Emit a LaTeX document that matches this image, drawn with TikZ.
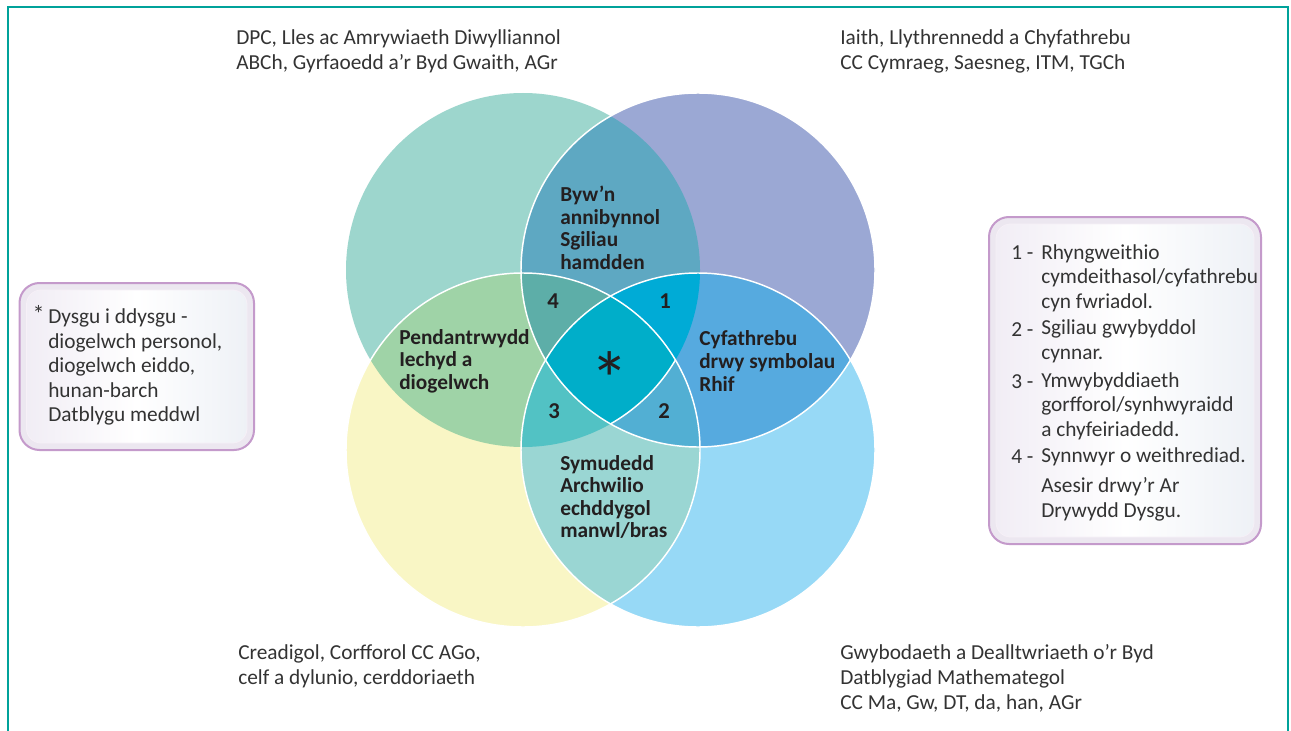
\documentclass[tikz,border=0pt]{standalone}
\usepackage{fontspec}
\setmainfont{Carlito}
\definecolor{cTLc}{HTML}{9DD6CD}
\definecolor{cTRc}{HTML}{9BA8D4}
\definecolor{cBLc}{HTML}{F9F6C5}
\definecolor{cBRc}{HTML}{97D9F6}
\definecolor{pTop}{HTML}{5EA8C2}
\definecolor{pLeft}{HTML}{9FD3A7}
\definecolor{pRight}{HTML}{56AADF}
\definecolor{pBot}{HTML}{9AD6D3}
\definecolor{tFour}{HTML}{5DAEA8}
\definecolor{tOne}{HTML}{00ABD6}
\definecolor{tThree}{HTML}{52C2C4}
\definecolor{tTwo}{HTML}{52AFD3}
\definecolor{qAll}{HTML}{00AEC9}
\definecolor{frameteal}{HTML}{00A29A}
\definecolor{txtgray}{HTML}{333333}
\definecolor{txtdark}{HTML}{231F20}
\definecolor{panelline}{HTML}{C49ACB}
\definecolor{panelfill}{HTML}{ECE7F0}
\definecolor{pearlA}{HTML}{F1EDF5}
\definecolor{pearlB}{HTML}{EEF1F6}
\begin{document}
\begin{tikzpicture}[x=0.75pt,y=-0.75pt,
  corner/.style={anchor=west, align=left, inner sep=0pt, font=\fontsize{16}{18.75}\selectfont, text=txtgray},
  lbl/.style={anchor=west, align=left, inner sep=0pt, font=\bfseries\fontsize{16}{16.9}\selectfont, text=txtdark},
  num/.style={inner sep=0pt, font=\bfseries\fontsize{17}{18}\selectfont, text=txtdark},
  boxtxt/.style={anchor=west, align=left, inner sep=0pt, font=\fontsize{16}{18.4}\selectfont, text=txtgray},
  panel/.style={draw=panelline, line width=1.5pt, fill=panelfill, rounded corners=15pt},
  pearl/.style={draw=white!85!panelline, line width=0.6pt, left color=pearlA, right color=pearlB, middle color=white, rounded corners=11pt},
  whiteedge/.style={draw=white, line width=1.1pt}
]
\useasboundingbox (0,0) rectangle (1291,731);
\fill[white] (0,0) rectangle (1291,731);

\def\cTL{(523,270) circle[radius=177]}
\def\cTR{(698,270) circle[radius=177]}
\def\cBL{(523,450) circle[radius=177]}
\def\cBR{(698,450) circle[radius=177]}

% single circles
\fill[cTLc] \cTL;
\fill[cTRc] \cTR;
\fill[cBLc] \cBL;
\fill[cBRc] \cBR;
% pair lenses
\begin{scope}\clip \cTL; \fill[pTop] \cTR; \end{scope}
\begin{scope}\clip \cTL; \fill[pLeft] \cBL; \end{scope}
\begin{scope}\clip \cTR; \fill[pRight] \cBR; \end{scope}
\begin{scope}\clip \cBL; \fill[pBot] \cBR; \end{scope}
% triples
\begin{scope}\clip \cTL; \clip \cTR; \fill[tFour] \cBL; \end{scope}
\begin{scope}\clip \cTL; \clip \cTR; \fill[tOne] \cBR; \end{scope}
\begin{scope}\clip \cTL; \clip \cBL; \fill[tThree] \cBR; \end{scope}
\begin{scope}\clip \cTR; \clip \cBL; \fill[tTwo] \cBR; \end{scope}
% all four
\begin{scope}\clip \cTL; \clip \cTR; \clip \cBL; \fill[qAll] \cBR; \end{scope}
% white edges
\draw[whiteedge] \cTR;
\draw[whiteedge] \cBL;
\draw[whiteedge] \cBR;
\begin{scope}\clip \cTR; \clip \cBL; \clip \cBR; \draw[whiteedge] \cTL; \end{scope}

% frame
\draw[frameteal, line width=2.2pt] (8,745) -- (8,7) -- (1288,7) -- (1288,745);

% circle labels
\node[lbl] (top) at (560,228) {Byw’n\\annibynnol\\Sgiliau\\hamdden};
\node[lbl] (left) at (399,361) {Pendantrwydd\\Iechyd a\\diogelwch};
\node[lbl] (right) at (699,361) {Cyfathrebu\\drwy symbolau\\Rhif};
\node[lbl] (bottom) at (560,497) {Symudedd\\Archwilio\\echddygol\\manwl/bras};
\node[num] (n4) at (553,301) {4};
\node[num] (n1) at (665,301) {1};
\node[num] (n3) at (554,411) {3};
\node[num] (n2) at (664,411) {2};
\node[inner sep=0pt, font=\fontsize{58}{58}\selectfont, text=txtdark] (star) at (610,379) {*};

% corner texts
\node[corner] (ctl) at (236,51) {DPC, Lles ac Amrywiaeth Diwylliannol\\ABCh, Gyrfaoedd a’r Byd Gwaith, AGr};
\node[corner] (ctr) at (840,51) {Iaith, Llythrennedd a Chyfathrebu\\CC Cymraeg, Saesneg, ITM, TGCh};
\node[corner] (cbl) at (238,666) {Creadigol, Corfforol CC AGo,\\celf a dylunio, cerddoriaeth};
\node[corner] (cbr) at (840,678) {Gwybodaeth a Dealltwriaeth o’r Byd\\Datblygiad Mathemategol\\CC Ma, Gw, DT, da, han, AGr};

% left panel
\path[panel] (19.5,283) rectangle (254,450);
\path[pearl] (26.5,290) rectangle (247,443);
\node[inner sep=0pt, font=\fontsize{18}{18}\selectfont, text=txtgray] (lstar) at (38.5,314) {*};
\node[boxtxt] (ltext) at (48,367) {Dysgu i ddysgu -\\diogelwch personol,\\diogelwch eiddo,\\hunan-barch\\Datblygu meddwl};

% right panel
\path[panel] (989,217) rectangle (1261,544);
\path[pearl] (996,224) rectangle (1254,537);
\node[boxtxt] (k1) at (1011,253) {1 -};
\node[boxtxt] (t1) at (1041,278) {Rhyngweithio\\cymdeithasol/cyfathrebu\\cyn fwriadol.};
\node[boxtxt] (k2) at (1011,330) {2 -};
\node[boxtxt] (t2) at (1041,341.5) {Sgiliau gwybyddol\\cynnar.};
\node[boxtxt] (k3) at (1011,382) {3 -};
\node[boxtxt] (t3) at (1041,406) {Ymwybyddiaeth\\gorfforol/synhwyraidd\\a chyfeiriadedd.};
\node[boxtxt] (k4) at (1011,457) {4 -};
\node[boxtxt] (t4) at (1041,457) {Synnwyr o weithrediad.};
\node[boxtxt] (t5) at (1041,499.5) {Asesir drwy’r Ar\\Drywydd Dysgu.};
\end{tikzpicture}
\end{document}
